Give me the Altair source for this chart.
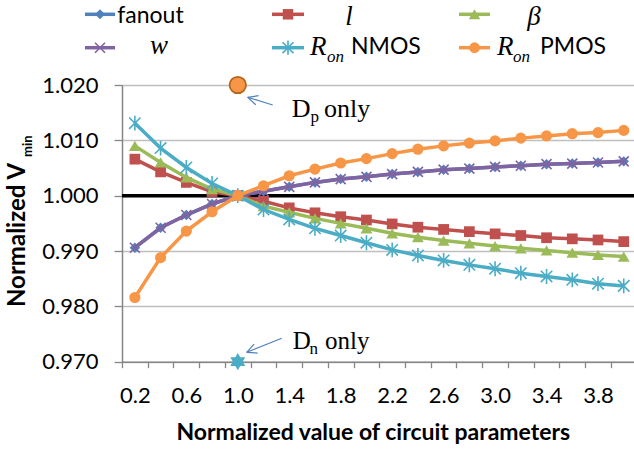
import math
import altair as alt
import pandas as pd

# ---------------- data ----------------
x_vals = [0.2, 0.4, 0.6, 0.8, 1.0, 1.2, 1.4, 1.6, 1.8, 2.0,
          2.2, 2.4, 2.6, 2.8, 3.0, 3.2, 3.4, 3.6, 3.8, 4.0]
fanout = [0.9906, 0.9942, 0.9965, 0.9985, 1.0000, 1.0008, 1.0016, 1.0024, 1.0030, 1.0034,
          1.0039, 1.0043, 1.0047, 1.0049, 1.0052, 1.0054, 1.0057, 1.0058, 1.0060, 1.0062]
l_vals = [1.0066, 1.0043, 1.0024, 1.0007, 1.0000, 0.9990, 0.9978, 0.9969, 0.9962, 0.9956,
          0.9949, 0.9943, 0.9939, 0.9935, 0.9931, 0.9928, 0.9924, 0.9922, 0.9920, 0.9917]
beta = [1.0090, 1.0060, 1.0033, 1.0012, 1.0000, 0.9981, 0.9970, 0.9959, 0.9950, 0.9941,
        0.9932, 0.9925, 0.9919, 0.9914, 0.9909, 0.9905, 0.9901, 0.9897, 0.9893, 0.9890]
w_vals = [0.9906, 0.9942, 0.9965, 0.9985, 1.0000, 1.0008, 1.0016, 1.0024, 1.0030, 1.0034,
          1.0039, 1.0043, 1.0047, 1.0049, 1.0052, 1.0054, 1.0057, 1.0058, 1.0060, 1.0062]
ron_nmos = [1.0131, 1.0086, 1.0051, 1.0022, 1.0000, 0.9975, 0.9957, 0.9941, 0.9928, 0.9915,
            0.9902, 0.9892, 0.9883, 0.9875, 0.9868, 0.9860, 0.9854, 0.9848, 0.9841, 0.9837]
ron_pmos = [0.9816, 0.9888, 0.9936, 0.9971, 1.0000, 1.0018, 1.0036, 1.0048, 1.0059, 1.0067,
            1.0076, 1.0084, 1.0090, 1.0095, 1.0099, 1.0104, 1.0108, 1.0112, 1.0114, 1.0118]
dp_only = [1.0, 1.020]   # (x, y)
dn_only = [1.0, 0.970]
ref_level = [1.000]
y_ticks = [0.970, 0.980, 0.990, 1.000, 1.010, 1.020]
x_tick_labels = ["0.2", "", "0.6", "", "1.0", "", "1.4", "", "1.8", "", "2.2", "",
                 "2.6", "", "3.0", "", "3.4", "", "3.8", ""]

# ---------------- layout ----------------
OX, OY = 122, 85
W, H = 634 - OX, 276.7
STEP = 0.2
BAND_PX = 25.73
XMIN = 0.1
XMAX = XMIN + W / BAND_PX * STEP

def rx(v):
    return v - OX

def ry(v):
    return v - OY

SANS = "Lato"
SERIF = "Liberation Serif"
BLUE, RED, GREEN, PURPLE, AQUA, ORANGE = "#4F81BD", "#C0504D", "#9BBB59", "#8064A2", "#4BACC6", "#F79646"

X_PATH = "M-1,-1L1,1M-1,1L1,-1"
AST_PATH = "M-1,-1L1,1M-1,1L1,-1M0,-1.3L0,1.3"
STAR_PATH = ("M0,-1L0.866,0.5L-0.866,0.5Z"
             "M0,1L-0.866,-0.5L0.866,-0.5Z")

xscale = alt.Scale(domain=[XMIN, XMAX], nice=False, zero=False)
yscale = alt.Scale(domain=[0.970, 1.020], nice=False, zero=False)

tick_vals = [round(XMIN + i * STEP, 1) for i in range(len(x_tick_labels))]
label_js = "[" + ",".join("'%s'" % s for s in x_tick_labels) + "]"
x_axis = alt.Axis(values=tick_vals, grid=False, title=None,
                  labelExpr=label_js + "[round((datum.value - %s) / %s)]" % (XMIN, STEP),
                  labelOffset=BAND_PX / 2, labelOverlap=False, labelFlush=False,
                  tickSize=6, labelPadding=18, labelFontSize=22, labelFont=SANS,
                  labelColor="black", tickColor="#868686", domainColor="#868686",
                  domainWidth=1.5, tickWidth=1.3)
y_axis = alt.Axis(values=y_ticks, format=".3f", grid=True, title=None,
                  tickSize=8, labelPadding=16, labelFontSize=22, labelFont=SANS,
                  labelColor="black", tickColor="#868686", domainColor="#868686",
                  gridColor="#BFBFBF", gridWidth=1.5, domainWidth=1.5, tickWidth=1.3)

def XE():
    return alt.X("x:Q", scale=xscale, axis=x_axis)

def YE():
    return alt.Y("y:Q", scale=yscale, axis=y_axis)

one = pd.DataFrame({"k": [0]})

layers = []

# reference line at 1.000
layers.append(alt.Chart(pd.DataFrame({"y": ref_level})).mark_rule(color="black", strokeWidth=3.5)
              .encode(y=YE()))

series = [
    ("fanout", fanout, BLUE, "diamond", 110, True, 1),
    ("l", l_vals, RED, "square", 115, True, 1),
    ("beta", beta, GREEN, "triangle-up", 140, True, 1),
    ("w", w_vals, PURPLE, X_PATH, 100, False, 1.6),
    ("Ron NMOS", ron_nmos, AQUA, AST_PATH, 130, False, 1.6),
    ("Ron PMOS", ron_pmos, ORANGE, "circle", 125, True, 1),
]
for name, vals, color, shape, size, filled, sw in series:
    df = pd.DataFrame({"x": x_vals, "y": vals})
    layers.append(alt.Chart(df).mark_line(color=color, strokeWidth=3.5).encode(x=XE(), y=YE()))
    layers.append(alt.Chart(df).mark_point(shape=shape, size=size, filled=filled, color=color,
                                           strokeWidth=sw, opacity=1)
                  .encode(x=XE(), y=YE()))

# single points
layers.append(alt.Chart(pd.DataFrame({"x": [dp_only[0]], "y": [dp_only[1]]}))
              .mark_point(shape="circle", size=270, filled=True, fill=ORANGE, stroke="#B5651D",
                          strokeWidth=1.8, opacity=1).encode(x=XE(), y=YE()))
layers.append(alt.Chart(pd.DataFrame({"x": [dn_only[0]], "y": [dn_only[1]]}))
              .mark_point(shape=STAR_PATH, size=300, filled=True, color=AQUA, opacity=1)
              .encode(x=XE(), y=YE()))

# arrows
def arrow(x1, y1, x2, y2, color=BLUE):
    out = []
    out.append(alt.Chart(one).mark_rule(color=color, strokeWidth=1.2).encode(
        x=alt.value(rx(x1)), y=alt.value(ry(y1)), x2=alt.value(rx(x2)), y2=alt.value(ry(y2))))
    ang = math.atan2(y1 - y2, x1 - x2)
    for d in (0.45, -0.45):
        hx = x2 + 11 * math.cos(ang + d)
        hy = y2 + 11 * math.sin(ang + d)
        out.append(alt.Chart(one).mark_rule(color=color, strokeWidth=1.2).encode(
            x=alt.value(rx(x2)), y=alt.value(ry(y2)), x2=alt.value(rx(hx)), y2=alt.value(ry(hy))))
    return out

layers += arrow(272.7, 105, 247.7, 97.3)
layers += arrow(281.7, 338.3, 246.7, 352.3)

def text(t, x, y, size, font=SANS, style="normal", weight="normal", align="left",
         baseline="alphabetic", angle=0, color="black"):
    kw = dict(font=font, fontSize=size, fontStyle=style, fontWeight=weight, align=align,
              baseline=baseline, color=color)
    if angle:
        kw["angle"] = angle
    return alt.Chart(pd.DataFrame({"t": [t]})).mark_text(**kw).encode(
        x=alt.value(rx(x)), y=alt.value(ry(y)), text="t:N")

# annotation texts
layers.append(text("D", 291.7, 116.7, 26, font=SERIF))
layers.append(text("p", 310.5, 121.5, 17, font=SERIF))
layers.append(text("only", 324, 116.7, 26, font=SERIF))
layers.append(text("D", 292.7, 349.3, 25, font=SERIF))
layers.append(text("n", 309.5, 353.5, 17, font=SERIF))
layers.append(text("only", 325, 349.3, 25, font=SERIF))

# axis titles
layers.append(text("Normalized value of circuit parameters", 373.3, 440, 23, weight="bold",
                   align="center"))
layers.append(text("Normalized V", 25.3, 307, 24, weight="bold", angle=270))
layers.append(text("min", 32, 157, 13, weight="bold", angle=270))

# legend
def leg_symbol(x1, x2, y, color, shape, size, filled, sw):
    out = [alt.Chart(one).mark_rule(color=color, strokeWidth=3.5).encode(
        x=alt.value(rx(x1)), x2=alt.value(rx(x2)), y=alt.value(ry(y)))]
    out.append(alt.Chart(one).mark_point(shape=shape, size=size, filled=filled, color=color,
                                         strokeWidth=sw, opacity=1)
               .encode(x=alt.value(rx((x1 + x2) / 2)), y=alt.value(ry(y))))
    return out

R1, R2 = 14.3, 47.7
layers += leg_symbol(85, 115, R1, BLUE, "diamond", 100, True, 1)
layers += leg_symbol(272, 304, R1, RED, "square", 110, True, 1)
layers += leg_symbol(459, 490, R1, GREEN, "triangle-up", 130, True, 1)
layers += leg_symbol(85, 115, R2, PURPLE, X_PATH, 100, False, 1.6)
layers += leg_symbol(272, 304, R2, AQUA, AST_PATH, 120, False, 1.6)
layers += leg_symbol(459, 490, R2, ORANGE, "circle", 115, True, 1)

layers.append(text("fanout", 117.3, 23, 23))
layers.append(text("l", 349, 24.5, 27, font=SERIF, style="italic", align="center"))
layers.append(text("β", 534, 25, 27, font=SERIF, style="italic", align="center"))
layers.append(text("w", 159, 54, 27, font=SERIF, style="italic", align="center"))
layers.append(text("R", 310, 55, 27, font=SERIF, style="italic"))
layers.append(text("on", 327, 61.7, 17, font=SERIF, style="italic"))
layers.append(text("NMOS", 351, 54, 23))
layers.append(text("R", 497, 55, 27, font=SERIF, style="italic"))
layers.append(text("on", 513, 61.7, 17, font=SERIF, style="italic"))
layers.append(text("PMOS", 540, 54, 23))

chart = alt.layer(*layers).properties(
    width=W, height=H,
    padding={"left": OX, "top": OY, "right": 0, "bottom": 450 - OY - H},
    autosize=alt.AutoSizeParams(type="none"),
    background="white",
).configure_view(stroke=None)

chart.save("out.html", embed_options={"renderer": "svg", "actions": False})
